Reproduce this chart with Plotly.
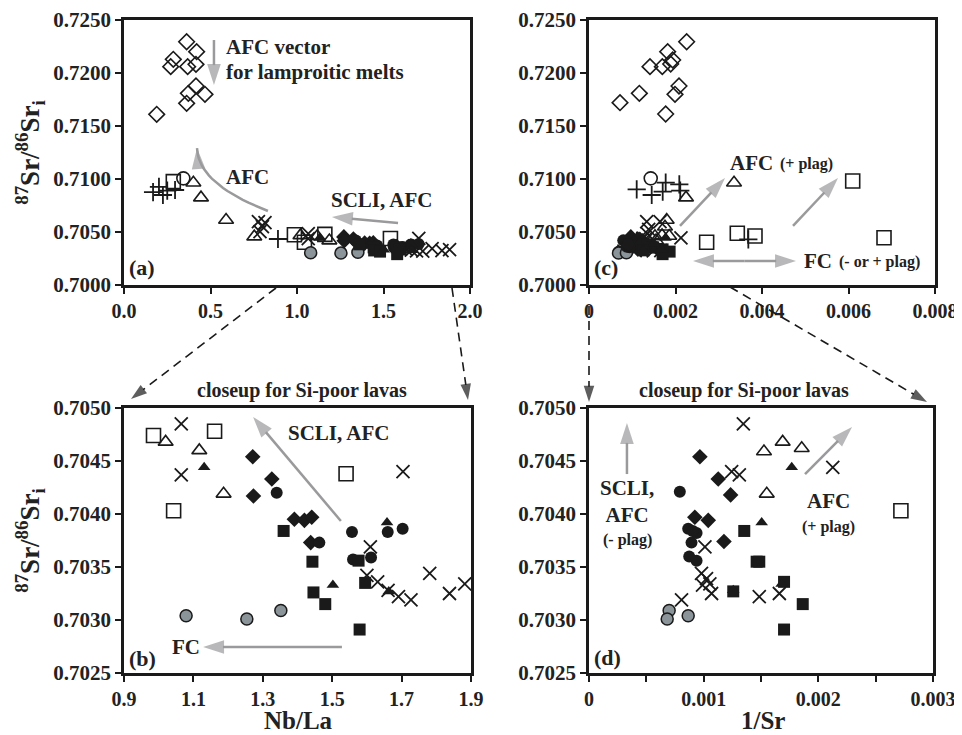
import plotly.graph_objects as go

# page offset introduced by the browser's default body margin
OFF = 8
W, H = 962 - OFF, 735 - OFF

# ---------------- DATA ----------------
# Panel (b): Nb/La vs 87Sr/86Sr_i (Si-poor lavas) -- also plotted in (a)
b_open_sq_x = [0.985, 1.161, 1.043, 1.540]
b_open_sq_y = [0.70474, 0.70478, 0.70403, 0.70438]
b_open_tri_x = [1.020, 1.117, 1.187]
b_open_tri_y = [0.70468, 0.70460, 0.70419]
b_x_x = [1.065, 1.065, 1.704, 1.610, 1.600, 1.631, 1.661, 1.691, 1.727, 1.781, 1.838, 1.882]
b_x_y = [0.70485, 0.70437, 0.70440, 0.70369, 0.70342, 0.70336, 0.70328, 0.70322, 0.70319, 0.70344, 0.70325, 0.70334]
b_fill_tri_x = [1.131, 1.502, 1.658, 1.663]
b_fill_tri_y = [0.70444, 0.70333, 0.70392, 0.70327]
b_fill_dia_x = [1.271, 1.326, 1.273, 1.391, 1.420, 1.441, 1.438]
b_fill_dia_y = [0.70454, 0.70433, 0.70417, 0.70395, 0.70394, 0.70397, 0.70373]
b_fill_circ_x = [1.340, 1.463, 1.557, 1.560, 1.612, 1.660, 1.703]
b_fill_circ_y = [0.70420, 0.70373, 0.70383, 0.70357, 0.70359, 0.70383, 0.70386]
b_fill_sq_x = [1.360, 1.443, 1.446, 1.480, 1.576, 1.595, 1.579]
b_fill_sq_y = [0.70384, 0.70355, 0.70326, 0.70315, 0.70356, 0.70335, 0.70291]
b_gray_x = [1.079, 1.254, 1.352]
b_gray_y = [0.70304, 0.70301, 0.70309]

# Panel (a): additional samples (Nb/La vs 87Sr/86Sr_i)
a_dia_x = [0.362, 0.420, 0.285, 0.270, 0.368, 0.416, 0.416, 0.372, 0.468, 0.362, 0.189]
a_dia_y = [0.72295, 0.72201, 0.72129, 0.72060, 0.72060, 0.72082, 0.71877, 0.71808, 0.71799, 0.71714, 0.71610]
a_plus_x = [0.168, 0.202, 0.225, 0.295, 0.250, 0.890]
a_plus_y = [0.70877, 0.70925, 0.70849, 0.70896, 0.70890, 0.70434]
a_open_sq_x = [0.285]
a_open_sq_y = [0.70975]
a_open_circ_x = [0.343]
a_open_circ_y = [0.71006]
a_open_tri_x = [0.401, 0.445, 0.590, 0.753]
a_open_tri_y = [0.70965, 0.70824, 0.70613, 0.70456]
a_x_x = [0.777, 0.815, 0.786, 0.800]
a_x_y = [0.70597, 0.70588, 0.70503, 0.70550]

# Panel (d): 1/Sr vs 87Sr/86Sr_i (Si-poor lavas) -- also plotted in (c)
d_open_tri_x = [0.001526, 0.001689, 0.001855, 0.001550]
d_open_tri_y = [0.70459, 0.70468, 0.70462, 0.70419]
d_fill_tri_x = [0.001768, 0.001506, 0.001258, 0.001680]
d_fill_tri_y = [0.70444, 0.70392, 0.70328, 0.70334]
d_open_sq_x = [0.002720]
d_open_sq_y = [0.70403]
d_x_x = [0.001346, 0.001244, 0.001311, 0.002126, 0.001011, 0.000981, 0.001025, 0.001054,
         0.000990, 0.001069, 0.000807, 0.001485, 0.001660]
d_x_y = [0.70485, 0.70440, 0.70437, 0.70444, 0.70369, 0.70344, 0.70339, 0.70334,
         0.70333, 0.70325, 0.70319, 0.70322, 0.70325]
d_fill_dia_x = [0.000967, 0.001127, 0.001235, 0.000923, 0.001040, 0.001177]
d_fill_dia_y = [0.70454, 0.70433, 0.70418, 0.70397, 0.70394, 0.70374]
d_fill_circ_x = [0.000792, 0.000865, 0.000938, 0.000894, 0.000874, 0.000938, 0.000905]
d_fill_circ_y = [0.70421, 0.70386, 0.70382, 0.70373, 0.70360, 0.70356, 0.70384]
d_fill_sq_x = [0.001354, 0.001462, 0.001485, 0.001701, 0.001864, 0.001701, 0.001258]
d_fill_sq_y = [0.70384, 0.70355, 0.70355, 0.70336, 0.70315, 0.70291, 0.70327]
d_gray_x = [0.000699, 0.000682, 0.000865]
d_gray_y = [0.70309, 0.70301, 0.70304]

# Panel (c): additional samples (1/Sr vs 87Sr/86Sr_i)
c_dia_x = [0.002258, 0.001819, 0.001935, 0.001410, 0.001695, 0.001889, 0.002081, 0.001988, 0.001164, 0.000717, 0.001773]
c_dia_y = [0.72295, 0.72201, 0.72123, 0.72060, 0.72060, 0.72085, 0.71877, 0.71799, 0.71808, 0.71720, 0.71613]
c_plus_x = [0.001103, 0.001450, 0.001704, 0.001773, 0.002088, 0.002110, 0.003684]
c_plus_y = [0.70903, 0.70849, 0.70880, 0.70965, 0.70950, 0.70890, 0.70431]
c_open_sq_x = [0.003429, 0.003838, 0.006097, 0.006821]
c_open_sq_y = [0.70488, 0.70462, 0.70981, 0.70446]
c_open_circ_x = [0.001427]
c_open_circ_y = [0.71006]
c_open_tri_x = [0.003353, 0.002243, 0.001796, 0.001757]
c_open_tri_y = [0.70965, 0.70824, 0.70613, 0.70550]
c_x_x = [0.001334, 0.001642, 0.001380]
c_x_y = [0.70597, 0.70597, 0.70525]

# Tick labels
ab_ytick = [0.700, 0.705, 0.710, 0.715, 0.720, 0.725]
bd_ytick = [0.7025, 0.7030, 0.7035, 0.7040, 0.7045, 0.7050]
c_xtick = [0, 0.002, 0.004, 0.006, 0.008]
c_xtext = ["0", "0.002", "0.004", "0.006", "0.008"]
d_xtick = [0, 0.001, 0.002, 0.003]
d_xtext = ["0", "0.001", "0.002", "0.003"]

# ---------------- STYLES ----------------
BLK = "#1a1a1a"
GRAY_ARROW = "#9a9a9c"
FONT = "Liberation Serif"

styles = {
    "open_dia": dict(symbol="diamond-open", size=12, color=BLK, line=dict(color=BLK, width=1.6)),
    "plus": dict(symbol="cross-thin-open", size=13, color=BLK, line=dict(color=BLK, width=1.8)),
    "open_sq": dict(symbol="square-open", size=14, color=BLK, line=dict(color=BLK, width=1.6)),
    "open_circ": dict(symbol="circle-open", size=13, color=BLK, line=dict(color=BLK, width=1.6)),
    "open_tri": dict(symbol="triangle-up-open", size=13, color=BLK, line=dict(color=BLK, width=1.6)),
    "x": dict(symbol="x-thin-open", size=13, color=BLK, line=dict(color=BLK, width=1.8)),
    "fill_dia": dict(symbol="diamond", size=12, color=BLK, line=dict(width=0)),
    "fill_circ": dict(symbol="circle", size=12, color=BLK, line=dict(width=0)),
    "fill_sq": dict(symbol="square", size=12, color=BLK, line=dict(width=0)),
    "fill_tri": dict(symbol="triangle-up", size=11, color=BLK, line=dict(width=0)),
    "gray": dict(symbol="circle", size=12, color="#8b9499", line=dict(color=BLK, width=1.5)),
}

fig = go.Figure()


def add(xs, ys, style, xa, ya):
    fig.add_trace(go.Scatter(x=xs, y=ys, mode="markers", marker=styles[style],
                             xaxis=xa, yaxis=ya, showlegend=False, hoverinfo="skip"))


# panel (a): extras + Si-poor
for xs, ys, st in [(a_dia_x, a_dia_y, "open_dia"), (a_plus_x, a_plus_y, "plus"),
                   (a_open_sq_x, a_open_sq_y, "open_sq"), (a_open_circ_x, a_open_circ_y, "open_circ"),
                   (a_open_tri_x, a_open_tri_y, "open_tri"), (a_x_x, a_x_y, "x"),
                   (b_open_sq_x, b_open_sq_y, "open_sq"), (b_open_tri_x, b_open_tri_y, "open_tri"),
                   (b_x_x, b_x_y, "x"), (b_gray_x, b_gray_y, "gray"),
                   (b_fill_dia_x, b_fill_dia_y, "fill_dia"), (b_fill_circ_x, b_fill_circ_y, "fill_circ"),
                   (b_fill_sq_x, b_fill_sq_y, "fill_sq"), (b_fill_tri_x, b_fill_tri_y, "fill_tri")]:
    add(xs, ys, st, "x", "y")

# panel (c)
for xs, ys, st in [(c_dia_x, c_dia_y, "open_dia"), (c_plus_x, c_plus_y, "plus"),
                   (c_open_sq_x, c_open_sq_y, "open_sq"), (c_open_circ_x, c_open_circ_y, "open_circ"),
                   (c_open_tri_x, c_open_tri_y, "open_tri"), (c_x_x, c_x_y, "x"),
                   (d_open_sq_x, d_open_sq_y, "open_sq"), (d_open_tri_x, d_open_tri_y, "open_tri"),
                   (d_x_x, d_x_y, "x"), (d_gray_x, d_gray_y, "gray"),
                   (d_fill_dia_x, d_fill_dia_y, "fill_dia"), (d_fill_circ_x, d_fill_circ_y, "fill_circ"),
                   (d_fill_sq_x, d_fill_sq_y, "fill_sq"), (d_fill_tri_x, d_fill_tri_y, "fill_tri")]:
    add(xs, ys, st, "x2", "y2")

# panel (b)
for xs, ys, st in [(b_open_sq_x, b_open_sq_y, "open_sq"), (b_open_tri_x, b_open_tri_y, "open_tri"),
                   (b_x_x, b_x_y, "x"), (b_gray_x, b_gray_y, "gray"),
                   (b_fill_dia_x, b_fill_dia_y, "fill_dia"), (b_fill_circ_x, b_fill_circ_y, "fill_circ"),
                   (b_fill_sq_x, b_fill_sq_y, "fill_sq"), (b_fill_tri_x, b_fill_tri_y, "fill_tri")]:
    add(xs, ys, st, "x3", "y3")

# panel (d)
for xs, ys, st in [(d_open_sq_x, d_open_sq_y, "open_sq"), (d_open_tri_x, d_open_tri_y, "open_tri"),
                   (d_x_x, d_x_y, "x"), (d_gray_x, d_gray_y, "gray"),
                   (d_fill_dia_x, d_fill_dia_y, "fill_dia"), (d_fill_circ_x, d_fill_circ_y, "fill_circ"),
                   (d_fill_sq_x, d_fill_sq_y, "fill_sq"), (d_fill_tri_x, d_fill_tri_y, "fill_tri")]:
    add(xs, ys, st, "x4", "y4")


# page pixel -> paper fraction
def fx(px):
    return (px - OFF) / W


def fy(py):
    return 1 - (py - OFF) / H


def px_dom(a, b):
    return [fx(a), fx(b)]


def py_dom(top, bottom):
    return [fy(bottom), fy(top)]


tickfont = dict(family=FONT, size=21, color="#222", weight="bold")
xtickfont = dict(family=FONT, size=20, color="#222", weight="bold")
axis_common = dict(showline=True, linewidth=2.5, linecolor=BLK, mirror=True, ticks="outside",
                   ticklen=6, tickwidth=2, tickcolor=BLK, showgrid=False, zeroline=False,
                   fixedrange=True, automargin=False)
ytitle = "<sup>87</sup>Sr/<sup>86</sup>Sr<sub>i</sub>"
titlefont = dict(family=FONT, size=27, color="#222", weight="bold")

fig.update_layout(
    width=W, height=H, autosize=False, margin=dict(l=0, r=0, t=0, b=0, pad=0),
    paper_bgcolor="white", plot_bgcolor="rgba(0,0,0,0)",
    font=dict(family=FONT, color="#222", weight="bold"),
    xaxis=dict(domain=px_dom(124, 470), range=[0, 2.0], tickvals=[0, 0.5, 1.0, 1.5, 2.0],
               tickformat=".1f", anchor="y", tickfont=xtickfont, **axis_common),
    yaxis=dict(domain=py_dom(20, 285), range=[0.700, 0.725], tickvals=ab_ytick, tickformat=".4f",
               anchor="x", tickfont=tickfont,
               title=dict(text=ytitle, font=titlefont, standoff=6), **axis_common),
    xaxis2=dict(domain=px_dom(589, 935), range=[0, 0.008], tickvals=c_xtick, ticktext=c_xtext,
                anchor="y2", tickfont=xtickfont, **axis_common),
    yaxis2=dict(domain=py_dom(20, 285), range=[0.700, 0.725], tickvals=ab_ytick, tickformat=".4f",
                anchor="x2", tickfont=tickfont, **axis_common),
    xaxis3=dict(domain=px_dom(124, 471), range=[0.9, 1.9], tickvals=[0.9, 1.1, 1.3, 1.5, 1.7, 1.9],
                tickformat=".1f", anchor="y3", tickfont=xtickfont, **axis_common),
    yaxis3=dict(domain=py_dom(408, 673), range=[0.7025, 0.7050], tickvals=bd_ytick, tickformat=".4f",
                anchor="x3", tickfont=tickfont,
                title=dict(text=ytitle, font=titlefont, standoff=6), **axis_common),
    xaxis4=dict(domain=px_dom(589, 933), range=[0, 0.003], tickvals=d_xtick, ticktext=d_xtext,
                anchor="y4", tickfont=xtickfont,
                minor=dict(tickvals=[0.0005, 0.0015, 0.0025], ticklen=6, tickwidth=2,
                           tickcolor=BLK, ticks="outside"),
                **axis_common),
    yaxis4=dict(domain=py_dom(408, 673), range=[0.7025, 0.7050], tickvals=bd_ytick, tickformat=".4f",
                anchor="x4", tickfont=tickfont, **axis_common),
    # invisible full-page overlay axes in page-pixel units, for the connector arrows
    xaxis5=dict(domain=[0, 1], range=[OFF, OFF + W], visible=False, fixedrange=True, anchor="y5"),
    yaxis5=dict(domain=[0, 1], range=[OFF + H, OFF], visible=False, fixedrange=True, anchor="x5"),
)

annotations = []


def label(text, px, py, size=21, xanchor="left"):
    annotations.append(dict(text=text, x=fx(px), y=fy(py), xref="paper", yref="paper",
                            xanchor=xanchor, yanchor="middle", showarrow=False, borderpad=0,
                            font=dict(family=FONT, size=size, color="#222", weight="bold")))


def arrow(xs, ys, xa, ya, color=GRAY_ARROW, width=2.5, head=22, dash="solid"):
    """Polyline with an arrow head at its last point."""
    n = len(xs)
    fig.add_trace(go.Scatter(
        x=xs, y=ys, xaxis=xa, yaxis=ya, mode="lines+markers", showlegend=False,
        hoverinfo="skip", cliponaxis=False,
        line=dict(color=color, width=width, dash=dash),
        marker=dict(symbol="arrow", angleref="previous", color=color,
                    size=[0] * (n - 1) + [head], line=dict(width=0))))


# x-axis titles (panels b and d)
label("Nb/La", 298, 720, size=25, xanchor="center")
label("1/Sr", 763, 720, size=25, xanchor="center")

# panel (a) labels and arrows
label("AFC vector", 225, 47)
label("for lamproitic melts", 225, 72)
label("AFC", 225, 177)
label("SCLI, AFC", 330, 200)
label("(a)", 128, 268, size=22)
arrow([0.520, 0.520], [0.72311, 0.71887], "x", "y")
arrow([1.584, 1.202], [0.70585, 0.70642], "x", "y")
# curved AFC arrow: quadratic Bezier sampled along its parameter
P0, C, P2 = (0.832, 0.70698), (0.428, 0.70953), (0.422, 0.71292)
ts = [i / 20 for i in range(21)]
arrow([(1 - t) ** 2 * P0[0] + 2 * (1 - t) * t * C[0] + t ** 2 * P2[0] for t in ts],
      [(1 - t) ** 2 * P0[1] + 2 * (1 - t) * t * C[1] + t ** 2 * P2[1] for t in ts], "x", "y")

# panel (c) labels and arrows
label("AFC", 729, 163)
label("(+ plag)", 779, 164, size=16)
label("FC", 803, 261)
label("(- or + plag)", 838, 262, size=16)
label("(c)", 593, 268, size=22)
arrow([0.002104, 0.003145], [0.70557, 0.71009], "x2", "y2")
arrow([0.004717, 0.005757], [0.70557, 0.71009], "x2", "y2")
arrow([0.0036, 0.002405], [0.70226, 0.70226], "x2", "y2")
arrow([0.0036, 0.004786], [0.70226, 0.70226], "x2", "y2")

# panel (b) labels and arrows
label("closeup for Si-poor lavas", 302, 390, size=20, xanchor="center")
label("SCLI, AFC", 287, 433)
label("FC", 171, 647)
label("(b)", 128, 658, size=22)
arrow([1.525, 1.272], [0.703934, 0.704915], "x3", "y3")
arrow([1.528, 1.128], [0.702745, 0.702745], "x3", "y3")

# panel (d) labels and arrows
label("closeup for Si-poor lavas", 744, 390, size=20, xanchor="center")
label("SCLI,<br>AFC", 627, 502, xanchor="center")
label("(- plag)", 627, 540, size=16, xanchor="center")
label("AFC", 828, 501, xanchor="center")
label("(+ plag)", 828, 527, size=16, xanchor="center")
label("(d)", 593, 657, size=22)
arrow([0.000331, 0.000331], [0.704377, 0.704858], "x4", "y4")
arrow([0.001884, 0.002294], [0.704377, 0.704821], "x4", "y4")

# dashed connectors between panels (page pixel coordinates)
connectors = [((276, 288), (131, 399)), ((452, 288), (468, 400)),
              ((589, 306), (589, 402)), ((730, 287), (927, 402))]
for (x0, y0), (x1, y1) in connectors:
    arrow([x0, x1], [y0, y1], "x5", "y5", color=BLK, width=1.6, head=17, dash="9px,6px")

fig.update_layout(annotations=annotations)

fig.write_html("out.html")
